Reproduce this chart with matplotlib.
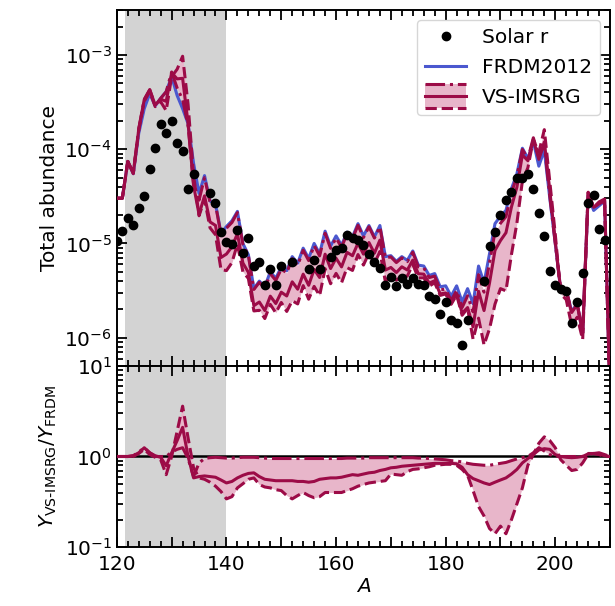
import numpy as np
import matplotlib
matplotlib.use('Agg')
import matplotlib.pyplot as plt
from matplotlib.ticker import LogLocator, MultipleLocator, FuncFormatter, NullFormatter
from matplotlib.legend_handler import HandlerBase
from matplotlib.patches import Rectangle
from matplotlib.lines import Line2D

plt.rcParams['font.size'] = 14.5
plt.rcParams['axes.linewidth'] = 1.4

# mass numbers of the network calculation
A = np.arange(120, 211)

# FRDM2012 total abundance, log10, one value per A = 120..210
frdm_log10 = [
    -4.52, -4.52, -4.13, -4.26, -3.83, -3.57, -3.41, -3.54, -3.46, -3.39,
    -3.23, -3.43, -3.57, -3.73, -4.15, -4.47, -4.28, -4.55, -4.58, -4.89,
    -4.82, -4.76, -4.66, -5.00, -5.12, -5.48, -5.40, -5.46, -5.30, -5.37,
    -5.25, -5.29, -5.14, -5.21, -5.05, -5.16, -5.00, -5.11, -4.87, -5.03,
    -4.92, -5.02, -4.88, -4.93, -4.79, -4.92, -4.81, -4.93, -4.81, -5.14,
    -5.13, -5.19, -5.14, -5.18, -5.08, -5.23, -5.24, -5.34, -5.32, -5.46,
    -5.45, -5.56, -5.45, -5.62, -5.48, -5.64, -5.24, -5.42, -5.11, -4.79,
    -4.71, -4.65, -4.42, -4.26, -3.99, -4.10, -3.92, -4.18, -4.01, -4.52,
    -5.00, -5.50, -5.50, -5.72, -5.64, -5.95, -4.49, -4.65, -4.60, -4.55,
    -6.64,
]

# Y_VS-IMSRG / Y_FRDM : central value, lower (dashed) and upper (dash-dot) bound
ratio_mid = [
    1.00, 1.00, 1.00, 1.02, 1.10, 1.25, 1.10, 1.02, 0.98, 0.79,
    1.10, 1.50, 2.10, 1.00, 0.58, 0.60, 0.61, 0.60, 0.59, 0.55,
    0.51, 0.53, 0.58, 0.62, 0.65, 0.66, 0.60, 0.56, 0.55, 0.54,
    0.54, 0.54, 0.54, 0.53, 0.53, 0.52, 0.53, 0.56, 0.57, 0.58,
    0.58, 0.59, 0.61, 0.63, 0.62, 0.64, 0.66, 0.67, 0.70, 0.72,
    0.75, 0.76, 0.78, 0.79, 0.80, 0.81, 0.82, 0.83, 0.84, 0.84,
    0.84, 0.84, 0.83, 0.76, 0.63, 0.57, 0.54, 0.51, 0.49, 0.52,
    0.55, 0.58, 0.64, 0.72, 0.85, 0.95, 1.05, 1.18, 1.22, 1.20,
    1.05, 1.00, 0.98, 0.97, 0.98, 1.00, 1.07, 1.08, 1.06, 1.02,
    1.00,
]
ratio_lo = [
    1.00, 1.00, 1.00, 1.00, 1.08, 1.20, 1.05, 0.98, 0.92, 0.63,
    1.00, 1.90, 3.60, 1.60, 0.75, 0.58, 0.56, 0.52, 0.47, 0.41,
    0.34, 0.36, 0.45, 0.50, 0.56, 0.58, 0.49, 0.46, 0.45, 0.43,
    0.42, 0.37, 0.34, 0.37, 0.40, 0.37, 0.35, 0.36, 0.40, 0.40,
    0.40, 0.40, 0.42, 0.44, 0.47, 0.49, 0.51, 0.52, 0.53, 0.54,
    0.64, 0.63, 0.62, 0.68, 0.72, 0.73, 0.75, 0.77, 0.80, 0.81,
    0.82, 0.82, 0.80, 0.72, 0.62, 0.42, 0.28, 0.22, 0.16, 0.14,
    0.17, 0.14, 0.20, 0.30, 0.45, 0.80, 1.05, 1.40, 1.65, 1.50,
    1.25, 0.92, 0.80, 0.70, 0.72, 0.85, 1.06, 1.08, 1.05, 1.00,
    1.00,
]
ratio_hi = [
    1.00, 1.00, 1.00, 1.02, 1.12, 1.25, 1.10, 1.00, 1.00, 1.00,
    1.12, 1.20, 1.25, 0.95, 0.60, 0.85, 0.95, 0.97, 0.98, 0.97,
    0.96, 0.96, 0.97, 0.98, 0.98, 0.98, 0.97, 0.96, 0.95, 0.95,
    0.95, 0.95, 0.95, 0.95, 0.95, 0.95, 0.95, 0.95, 0.95, 0.95,
    0.95, 0.95, 0.96, 0.96, 0.96, 0.96, 0.97, 0.97, 0.97, 0.97,
    0.97, 0.97, 0.97, 0.97, 0.97, 0.96, 0.96, 0.95, 0.94, 0.93,
    0.92, 0.90, 0.89, 0.87, 0.84, 0.82, 0.81, 0.80, 0.80, 0.82,
    0.84, 0.86, 0.90, 0.94, 0.97, 1.00, 1.10, 1.25, 1.15, 1.05,
    1.00, 1.00, 1.00, 1.00, 1.00, 1.00, 1.08, 1.08, 1.10, 1.05,
    1.00,
]

# solar r-process residuals
solar_A = [120, 121, 122, 123, 124, 125, 126, 127, 128, 129, 130, 131, 132, 133, 134,
           137, 138, 139, 140, 141, 142, 143, 144, 145, 146, 147, 148, 149, 150,
           152, 155, 156, 157, 159, 160, 161, 162, 163, 164, 165, 166, 167, 168,
           169, 170, 171, 172, 173, 174, 175, 176, 177, 178, 179, 180, 181, 182,
           183, 184, 187, 188, 189, 190, 191, 192, 193, 194, 195, 196, 197, 198,
           199, 200, 201, 202, 203, 204, 205, 206, 207, 208, 209]
solar_Y = [1.05e-5, 1.36e-5, 1.84e-5, 1.58e-5, 2.37e-5, 3.2e-5, 6.1e-5, 1.03e-4, 1.84e-4,
           1.5e-4, 1.97e-4, 1.15e-4, 9.6e-5, 3.77e-5, 5.4e-5,
           3.4e-5, 2.7e-5, 1.33e-5, 1.04e-5, 9.8e-6, 1.38e-5, 7.96e-6, 1.13e-5, 5.8e-6,
           6.4e-6, 3.6e-6, 5.3e-6, 3.6e-6, 5.7e-6,
           6.4e-6, 5.4e-6, 6.6e-6, 5.4e-6, 7.1e-6, 8.5e-6, 8.9e-6, 1.22e-5, 1.15e-5,
           1.08e-5, 9.6e-6, 7.8e-6, 6.3e-6, 5.5e-6,
           3.6e-6, 4.4e-6, 3.5e-6, 4.3e-6, 3.7e-6, 4.3e-6, 3.7e-6, 3.6e-6, 2.8e-6,
           2.6e-6, 1.77e-6, 2.37e-6, 1.54e-6, 1.42e-6,
           8.4e-7, 1.54e-6, 4.0e-6, 9.5e-6, 1.33e-5, 2.0e-5, 2.9e-5, 3.5e-5, 4.9e-5,
           5.0e-5, 5.4e-5, 3.8e-5, 2.1e-5, 1.19e-5,
           5.1e-6, 3.6e-6, 3.25e-6, 3.1e-6, 1.42e-6, 2.4e-6, 4.9e-6, 2.7e-5, 3.3e-5,
           1.42e-5, 1.1e-5]

RED = '#9c0b47'
PINK = '#e8b6ca'
BLUE = '#4b58cf'
LW = 2.2

frdm = 10.0 ** np.array(frdm_log10)
vs_mid = frdm * np.array(ratio_mid)
vs_lo = frdm * np.array(ratio_lo)
vs_hi = frdm * np.array(ratio_hi)


class BandHandler(HandlerBase):
    # band legend entry: filled box with dash-dot top, solid middle, dashed bottom
    def create_artists(self, legend, orig_handle, xdescent, ydescent,
                       width, height, fontsize, trans):
        x0 = -xdescent
        yc = -ydescent + height / 2
        half = 0.85 * height
        rect = Rectangle((x0, yc - half), width, 2 * half, facecolor=PINK,
                         edgecolor='none', transform=trans)
        top = Line2D([x0, x0 + width], [yc + half] * 2, color=RED, ls='-.', lw=LW,
                     transform=trans)
        mid = Line2D([x0, x0 + width], [yc] * 2, color=RED, lw=LW, transform=trans)
        bot = Line2D([x0, x0 + width], [yc - half] * 2, color=RED, ls='--', lw=LW,
                     transform=trans)
        return [rect, top, mid, bot]


class Band:
    pass


fig = plt.figure(figsize=(6.15, 6.06), dpi=100)
ax1 = fig.add_axes([0.19, 0.396, 0.802, 0.5875])
ax2 = fig.add_axes([0.19, 0.0974, 0.802, 0.2986], sharex=ax1)

# top panel
ax1.axvspan(121.5, 140, color='lightgray', lw=0, zorder=0)
ax1.fill_between(A, vs_lo, vs_hi, color=PINK, lw=0, zorder=1)
ax1.plot(A, frdm, color=BLUE, lw=LW, zorder=2)
ax1.plot(A, vs_hi, color=RED, ls='-.', lw=LW, zorder=3)
ax1.plot(A, vs_mid, color=RED, lw=LW, zorder=3)
ax1.plot(A, vs_lo, color=RED, ls='--', lw=LW, zorder=3)
ax1.plot(solar_A, solar_Y, 'o', color='k', ms=6, zorder=4)

ax1.set_yscale('log')
ax1.set_ylim(5e-7, 3e-3)
ax1.set_ylabel('Total abundance')
ax1.tick_params(labelbottom=False)

h_sol = Line2D([], [], ls='', marker='o', color='k', ms=6)
h_frdm = Line2D([], [], color=BLUE, lw=LW)
ax1.legend([h_sol, h_frdm, Band()], ['Solar r', 'FRDM2012', 'VS-IMSRG'],
           handler_map={Band: BandHandler()}, loc='upper right', fontsize=14.5,
           labelspacing=0.55)

# bottom panel: ratio
ax2.axvspan(121.5, 140, color='lightgray', lw=0, zorder=0)
ax2.fill_between(A, ratio_lo, ratio_hi, color=PINK, lw=0, zorder=1)
ax2.axhline(1.0, color='k', lw=1.8, zorder=2)
ax2.plot(A, ratio_hi, color=RED, ls='-.', lw=LW, zorder=3)
ax2.plot(A, ratio_mid, color=RED, lw=LW, zorder=3)
ax2.plot(A, ratio_lo, color=RED, ls='--', lw=LW, zorder=3)

ax2.set_yscale('log')
ax2.set_ylim(0.1, 10)
ax2.set_xlim(120, 210)
ax2.set_xlabel(r'$A$', labelpad=2)
ax2.set_ylabel(r'$Y_{\text{VS-IMSRG}}/Y_{\text{FRDM}}$')

ax2.xaxis.set_major_locator(MultipleLocator(10))
ax2.xaxis.set_minor_locator(MultipleLocator(2))
ax2.xaxis.set_major_formatter(FuncFormatter(lambda v, p: '%d' % v if v % 20 == 0 else ''))
ax2.tick_params(axis='x', which='major', pad=6)

for ax in (ax1, ax2):
    ax.yaxis.set_major_locator(LogLocator(base=10, numticks=12))
    ax.yaxis.set_minor_locator(LogLocator(base=10, subs=np.arange(2, 10), numticks=12))
    ax.yaxis.set_minor_formatter(NullFormatter())
    ax.tick_params(which='both', direction='in', top=True, right=True, width=1.3)
    ax.tick_params(which='major', length=7)
    ax.tick_params(which='minor', length=4)

fig.savefig('out.png', dpi=100)
